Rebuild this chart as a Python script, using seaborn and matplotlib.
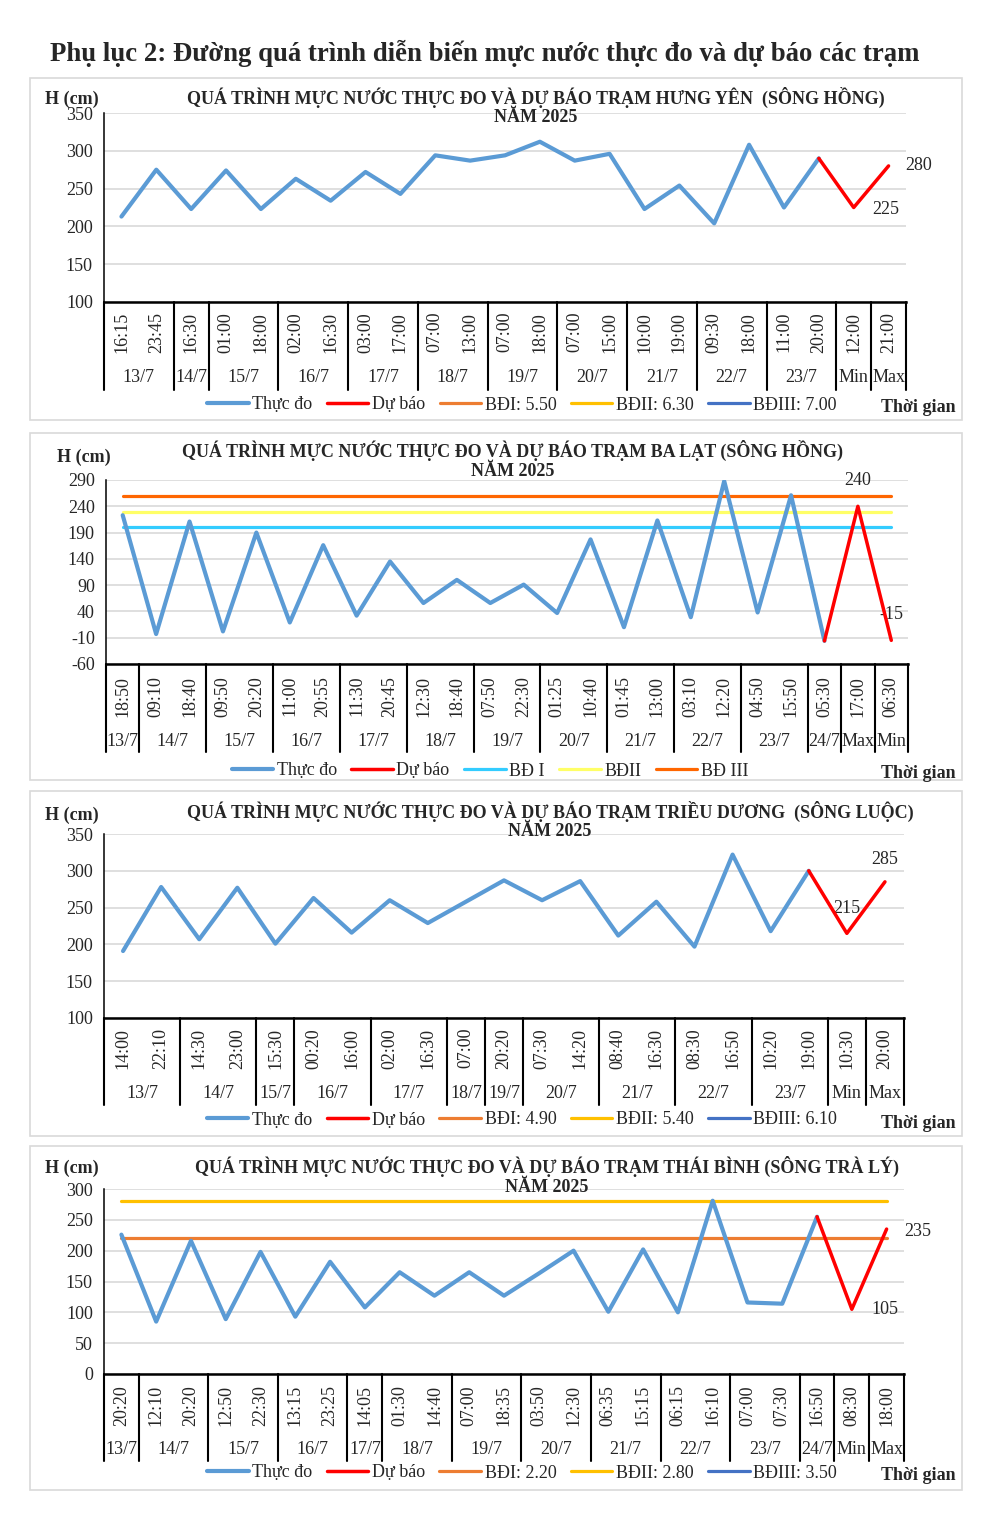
import numpy as np
import pandas as pd
import matplotlib
matplotlib.use("Agg")
import matplotlib.pyplot as plt
import matplotlib.transforms as mtransforms
import seaborn as sns

# ---------------- DATA ----------------
MAIN_TITLE = "Phụ lục 2: Đường quá trình diễn biến mực nước thực đo và dự báo các trạm"

HY_title = ["QUÁ TRÌNH MỰC NƯỚC THỰC ĐO VÀ DỰ BÁO TRẠM HƯNG YÊN  (SÔNG HỒNG)", "NĂM 2025"]
HY_times = ["16:15", "23:45", "16:30", "01:00", "18:00", "02:00", "16:30", "03:00", "17:00",
            "07:00", "13:00", "07:00", "18:00", "07:00", "15:00", "10:00", "19:00", "09:30",
            "18:00", "11:00", "20:00", "12:00", "21:00"]
HY_groups = ["13/7", "14/7", "15/7", "16/7", "17/7", "18/7", "19/7", "20/7", "21/7", "22/7", "23/7", "Min", "Max"]
HY_group_sizes = [2, 1, 2, 2, 2, 2, 2, 2, 2, 2, 2, 1, 1]
HY_obs = [213, 275, 223, 274, 223, 263, 234, 272, 243, 294, 287, 294, 312, 287, 296,
          223, 254, 204, 308, 225, 290]
HY_fc = [290, 225, 280]
HY_alarm = [550, 630, 700]
HY_alarm_labels = ["BĐI: 5.50", "BĐII: 6.30", "BĐIII: 7.00"]
HY_yticks = [100, 150, 200, 250, 300, 350]

BL_title = ["QUÁ TRÌNH MỰC NƯỚC THỰC ĐO VÀ DỰ BÁO TRẠM BA LẠT (SÔNG HỒNG)", "NĂM 2025"]
BL_times = ["18:50", "09:10", "18:40", "09:50", "20:20", "11:00", "20:55", "11:30", "20:45",
            "12:30", "18:40", "07:50", "22:30", "01:25", "10:40", "01:45", "13:00", "03:10",
            "12:20", "04:50", "15:50", "05:30", "17:00", "06:30"]
BL_groups = ["13/7", "14/7", "15/7", "16/7", "17/7", "18/7", "19/7", "20/7", "21/7", "22/7", "23/7", "24/7", "Max", "Min"]
BL_group_sizes = [1, 2, 2, 2, 2, 2, 2, 2, 2, 2, 2, 1, 1, 1]
BL_obs = [223, -3, 211, 2, 190, 19, 166, 32, 135, 56, 100, 56, 91, 37, 177, 10, 213, 29,
          288, 38, 261, -16]
BL_fc = [-16, 240, -15]
BL_alarm = [200, 230, 260]
BL_alarm_labels = ["BĐ I", "BĐII", "BĐ III"]
BL_yticks = [-60, -10, 40, 90, 140, 190, 240, 290]

TD_title = ["QUÁ TRÌNH MỰC NƯỚC THỰC ĐO VÀ DỰ BÁO TRẠM TRIỀU DƯƠNG  (SÔNG LUỘC)", "NĂM 2025"]
TD_times = ["14:00", "22:10", "14:30", "23:00", "15:30", "00:20", "16:00", "02:00", "16:30",
            "07:00", "20:20", "07:30", "14:20", "08:40", "16:30", "08:30", "16:50", "10:20",
            "19:00", "10:30", "20:00"]
TD_groups = ["13/7", "14/7", "15/7", "16/7", "17/7", "18/7", "19/7", "20/7", "21/7", "22/7", "23/7", "Min", "Max"]
TD_group_sizes = [2, 2, 1, 2, 2, 1, 1, 2, 2, 2, 2, 1, 1]
TD_obs = [191, 278, 207, 277, 201, 263, 216, 260, 229, 258, 287, 260, 286, 212, 258, 197,
          322, 218, 300]
TD_fc = [300, 215, 285]
TD_alarm = [490, 540, 610]
TD_alarm_labels = ["BĐI: 4.90", "BĐII: 5.40", "BĐIII: 6.10"]
TD_yticks = [100, 150, 200, 250, 300, 350]

TB_title = ["QUÁ TRÌNH MỰC NƯỚC THỰC ĐO VÀ DỰ BÁO TRẠM THÁI BÌNH (SÔNG TRÀ LÝ)", "NĂM 2025"]
TB_times = ["20:20", "12:10", "20:20", "12:50", "22:30", "13:15", "23:25", "14:05", "01:30",
            "14:40", "07:00", "18:35", "03:50", "12:30", "06:35", "15:15", "06:15", "16:10",
            "07:00", "07:30", "16:50", "08:30", "18:00"]
TB_groups = ["13/7", "14/7", "15/7", "16/7", "17/7", "18/7", "19/7", "20/7", "21/7", "22/7", "23/7", "24/7", "Min", "Max"]
TB_group_sizes = [1, 2, 2, 2, 1, 2, 2, 2, 2, 2, 2, 1, 1, 1]
TB_obs = [226, 85, 216, 89, 198, 93, 182, 108, 165, 127, 165, 127, 163, 200, 101, 202, 100,
          281, 116, 114, 255]
TB_fc = [255, 105, 235]
TB_alarm = [220, 280, 350]
TB_alarm_labels = ["BĐI: 2.20", "BĐII: 2.80", "BĐIII: 3.50"]
TB_yticks = [0, 50, 100, 150, 200, 250, 300]

# ---------------- STYLE ----------------
sns.set_theme(style="white")
plt.rcParams["font.family"] = ["Liberation Serif", "DejaVu Serif"]
plt.rcParams["axes.unicode_minus"] = False

W, H = 990, 1515
fig = plt.figure(figsize=(W / 100, H / 100), dpi=100)
FS = 13

OBS_C = "#5B9BD5"
FC_C = "#FF0000"
STD_ALARM_C = ["#ED7D31", "#FFC000", "#4472C4"]
BL_ALARM_C = ["#33CCFF", "#FFFF66", "#FF6600"]


def fx(px):
    return px / W


def fy(py):
    return 1 - py / H


fig.text(fx(485), fy(53), MAIN_TITLE, ha="center", va="center", fontsize=19.3,
         fontweight="bold")


def panel(box, axpx, title, times, groups, sizes, obs, fc, alarm, alarm_labels,
          alarm_colors, yticks, geo, fc_labels):
    bx0, by0, bx1, by1 = box
    fig.patches.append(plt.Rectangle((fx(bx0), fy(by1)), fx(bx1) - fx(bx0), fy(by0) - fy(by1),
                                     transform=fig.transFigure, fill=False,
                                     edgecolor="#D9D9D9", lw=1.2))
    x0, x1, ytop, ybot = axpx
    ax = fig.add_axes([fx(x0), fy(ybot), fx(x1) - fx(x0), fy(ytop) - fy(ybot)])
    n = len(times)
    xs = np.arange(n)

    # alarm lines
    alarm_lines = []
    for v, lab, c in zip(alarm, alarm_labels, alarm_colors):
        d = pd.DataFrame({"x": [xs[0], xs[-1]], "y": [v, v]})
        sns.lineplot(data=d, x="x", y="y", ax=ax, color=c, lw=2.3, label=lab, legend=False)
        alarm_lines.append(ax.lines[-1])

    m = len(obs)
    dobs = pd.DataFrame({"x": xs[:m], "y": obs})
    sns.lineplot(data=dobs, x="x", y="y", ax=ax, color=OBS_C, lw=3.0, sort=False,
                 legend=False, zorder=4)
    l_obs = ax.lines[-1]
    dfc = pd.DataFrame({"x": xs[m - 1:m - 1 + len(fc)], "y": fc})
    sns.lineplot(data=dfc, x="x", y="y", ax=ax, color=FC_C, lw=2.5, sort=False,
                 legend=False, zorder=5)
    l_fc = ax.lines[-1]

    ax.set_xlim(-0.5, n - 0.5)
    ax.set_ylim(yticks[0], yticks[-1])
    ax.set_yticks(yticks)
    ax.set_yticklabels([str(t) for t in yticks], fontsize=FS)
    ax.set_xticks([])
    ax.set_xlabel("")
    ax.set_ylabel("")
    ax.grid(axis="y", color="#D9D9D9", lw=1.2)
    ax.set_axisbelow(True)
    for s in ["top", "right"]:
        ax.spines[s].set_visible(False)
    ax.spines["left"].set_color("black")
    ax.spines["left"].set_linewidth(1.1)
    ax.spines["bottom"].set_color("black")
    ax.spines["bottom"].set_linewidth(1.8)
    ax.tick_params(axis="y", direction="out", length=4, width=1, color="black", pad=4)

    # forecast value labels
    for (idx, dx, dy, ha) in fc_labels:
        ax.annotate(str(fc[idx]), (xs[m - 1 + idx], fc[idx]), xytext=(dx, dy),
                    textcoords="offset pixels", ha=ha, va="center", fontsize=FS)

    # multi-level category axis
    blend = mtransforms.blended_transform_factory(ax.transData, fig.transFigure)
    t_top, d_y, sep_bot = geo["t_top"], geo["date_y"], geo["sep_bot"]
    for i, t in enumerate(times):
        ax.text(xs[i], fy(t_top), t, rotation=90, ha="center", va="top", fontsize=FS,
                transform=blend, clip_on=False)
    start = 0
    bounds = [-0.5]
    for g, s in zip(groups, sizes):
        c = start + (s - 1) / 2
        ax.text(c, fy(d_y), g, ha="center", va="center", fontsize=FS, transform=blend,
                clip_on=False)
        start += s
        bounds.append(start - 0.5)
    for b in bounds:
        ax.plot([b, b], [fy(ybot), fy(sep_bot)], color="black", lw=1.5, transform=blend,
                clip_on=False)

    # titles
    tcx = geo["title_cx"]
    fig.text(fx(tcx), fy(geo["title_y"]), title[0], ha="center", va="center",
             fontsize=FS, fontweight="bold")
    fig.text(fx(tcx), fy(geo["title_y"] + 21), title[1], ha="center", va="center",
             fontsize=FS, fontweight="bold")
    fig.text(fx(geo["h_x"]), fy(geo["h_y"]), "H (cm)", ha="left", va="center",
             fontsize=FS, fontweight="bold")
    fig.text(fx(956), fy(geo["leg_y"] + 3), "Thời gian", ha="right", va="center",
             fontsize=FS, fontweight="bold")

    handles = [l_obs, l_fc] + alarm_lines
    labels = ["Thực đo", "Dự báo"] + list(alarm_labels)
    fig.legend(handles, labels, loc="center", bbox_to_anchor=(fx(geo["leg_x"]), fy(geo["leg_y"])),
               ncol=5, frameon=False, fontsize=FS, handlelength=2.3, handletextpad=0.2,
               columnspacing=0.8, borderpad=0)
    return ax


panel((30, 78, 962, 420), (104, 906, 113, 302), HY_title, HY_times, HY_groups,
      HY_group_sizes, HY_obs, HY_fc, HY_alarm, HY_alarm_labels, STD_ALARM_C, HY_yticks,
      dict(t_top=312, date_y=378, sep_bot=390, title_cx=536, title_y=97, h_x=45, h_y=99,
           leg_x=522, leg_y=405),
      [(1, 19, -2, "left"), (2, 17, 0, "left")])

panel((30, 433, 962, 780), (106, 908, 480, 664), BL_title, BL_times, BL_groups,
      BL_group_sizes, BL_obs, BL_fc, BL_alarm, BL_alarm_labels, BL_ALARM_C, BL_yticks,
      dict(t_top=676, date_y=741, sep_bot=752, title_cx=513, title_y=450, h_x=57, h_y=457,
           leg_x=490, leg_y=771),
      [(1, 0, 26, "center"), (2, 0, 26, "center")])

panel((30, 791, 962, 1136), (104, 904, 834, 1018), TD_title, TD_times, TD_groups,
      TD_group_sizes, TD_obs, TD_fc, TD_alarm, TD_alarm_labels, STD_ALARM_C, TD_yticks,
      dict(t_top=1028, date_y=1094, sep_bot=1105, title_cx=550, title_y=811, h_x=45, h_y=815,
           leg_x=522, leg_y=1120),
      [(1, 0, 25, "center"), (2, 0, 22, "center")])

panel((30, 1146, 962, 1490), (104, 904, 1189, 1374), TB_title, TB_times, TB_groups,
      TB_group_sizes, TB_obs, TB_fc, TB_alarm, TB_alarm_labels, STD_ALARM_C, TB_yticks,
      dict(t_top=1385, date_y=1450, sep_bot=1461, title_cx=547, title_y=1166, h_x=45, h_y=1168,
           leg_x=522, leg_y=1473),
      [(1, 20, 0, "left"), (2, 18, -2, "left")])

fig.savefig("out.png", dpi=100)
